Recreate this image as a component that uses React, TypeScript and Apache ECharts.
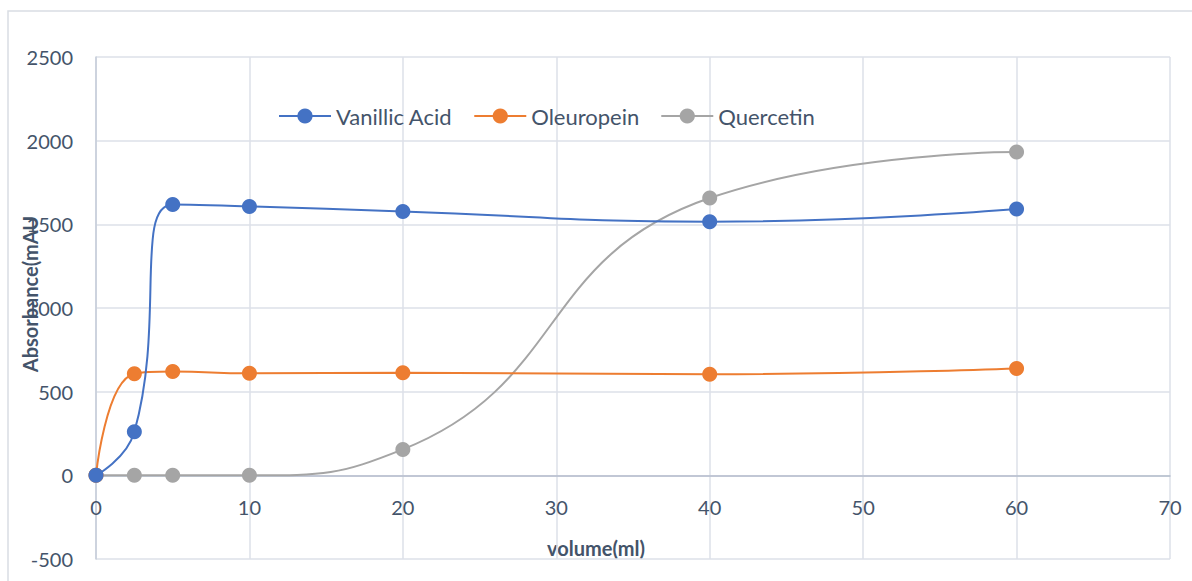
import React, { useEffect, useRef } from "react";
import * as echarts from "echarts";

const volumes = [0, 2.5, 5, 10, 20, 40, 60];
const vanillicAcid = [0, 260, 1618, 1607, 1577, 1516, 1591];
const oleuropein = [0, 607, 620, 610, 613, 604, 639];
const quercetin = [0, 0, 0, 0, 155, 1657, 1932];
const seriesNames = ["Vanillic Acid", "Oleuropein", "Quercetin"];
const colors = ["#4472C4", "#ED7D31", "#A5A5A5"];
const yTitle = "Absorbance(mAU";
const xTitle = "volume(ml)";

const FONT = "Lato, 'Open Sans', sans-serif";
const TEXT = "#44546A";

const GRID_TOP = 57;
const GRID_BOTTOM = 22;
const Y_MIN = -500;
const Y_MAX = 2500;

export default function App() {
  const ref = useRef<HTMLDivElement>(null);
  useEffect(() => {
    if (!ref.current) return;
    const chart = echarts.init(ref.current, undefined, { renderer: "svg" });
    const all = [vanillicAcid, oleuropein, quercetin];
    const gridH = 581 - GRID_TOP - GRID_BOTTOM;
    const zeroOffset = (gridH * (0 - Y_MIN)) / (Y_MAX - Y_MIN);
    chart.setOption({
      animation: false,
      backgroundColor: "#ffffff",
      textStyle: { fontFamily: FONT },
      grid: { left: 96, right: 22, top: GRID_TOP, bottom: GRID_BOTTOM, containLabel: false },
      legend: {
        top: 100,
        left: 273,
        itemWidth: 52,
        itemHeight: 19,
        itemGap: 21,
        textStyle: { fontSize: 22, color: TEXT, fontFamily: FONT },
        data: seriesNames,
      },
      xAxis: {
        type: "value",
        min: 0,
        max: 70,
        interval: 10,
        offset: -zeroOffset,
        axisLine: { show: true, onZero: false, lineStyle: { color: "#B4BDCC", width: 1.5 } },
        axisTick: { show: false },
        axisLabel: { fontSize: 20, color: TEXT, margin: 22, fontFamily: FONT },
        splitLine: { show: true, lineStyle: { color: "#DDE1E8", width: 1.5 } },
      },
      yAxis: {
        type: "value",
        min: Y_MIN,
        max: Y_MAX,
        interval: 500,
        axisLine: { show: true, lineStyle: { color: "#C4CCD8", width: 1.5 } },
        axisTick: { show: false },
        axisLabel: {
          fontSize: 20,
          color: TEXT,
          margin: 23,
          fontFamily: FONT,
          formatter: (v: number) => String(v),
        },
        splitLine: { show: true, lineStyle: { color: "#DDE1E8", width: 1.5 } },
      },
      graphic: [
        {
          type: "rect",
          silent: true,
          shape: { x: 8, y: 11, width: 1200, height: 600 },
          style: { fill: "none", stroke: "#D9DDE3", lineWidth: 1.5 },
          z: -10,
        },
        {
          type: "text",
          x: 30,
          y: 294,
          rotation: Math.PI / 2,
          style: {
            text: yTitle,
            fontSize: 20,
            fontWeight: "bold",
            fill: TEXT,
            fontFamily: FONT,
            align: "center",
            verticalAlign: "middle",
          },
        },
        {
          type: "text",
          x: 596,
          y: 548,
          style: {
            text: xTitle,
            fontSize: 20,
            fontWeight: "bold",
            fill: TEXT,
            fontFamily: FONT,
            align: "center",
            verticalAlign: "middle",
          },
        },
      ],
      series: seriesNames.map((name, i) => ({
        name,
        type: "line",
        smooth: 0.5,
        symbol: "circle",
        symbolSize: 15,
        itemStyle: { color: colors[i] },
        lineStyle: { color: colors[i], width: 2 },
        data: volumes.map((v, j) => [v, all[i][j]]),
        z: 3 + (2 - i),
      })),
    });
    return () => chart.dispose();
  }, []);
  return (
    <div
      ref={ref}
      style={{ position: "absolute", left: 0, top: 0, width: 1192, height: 581 }}
    />
  );
}
